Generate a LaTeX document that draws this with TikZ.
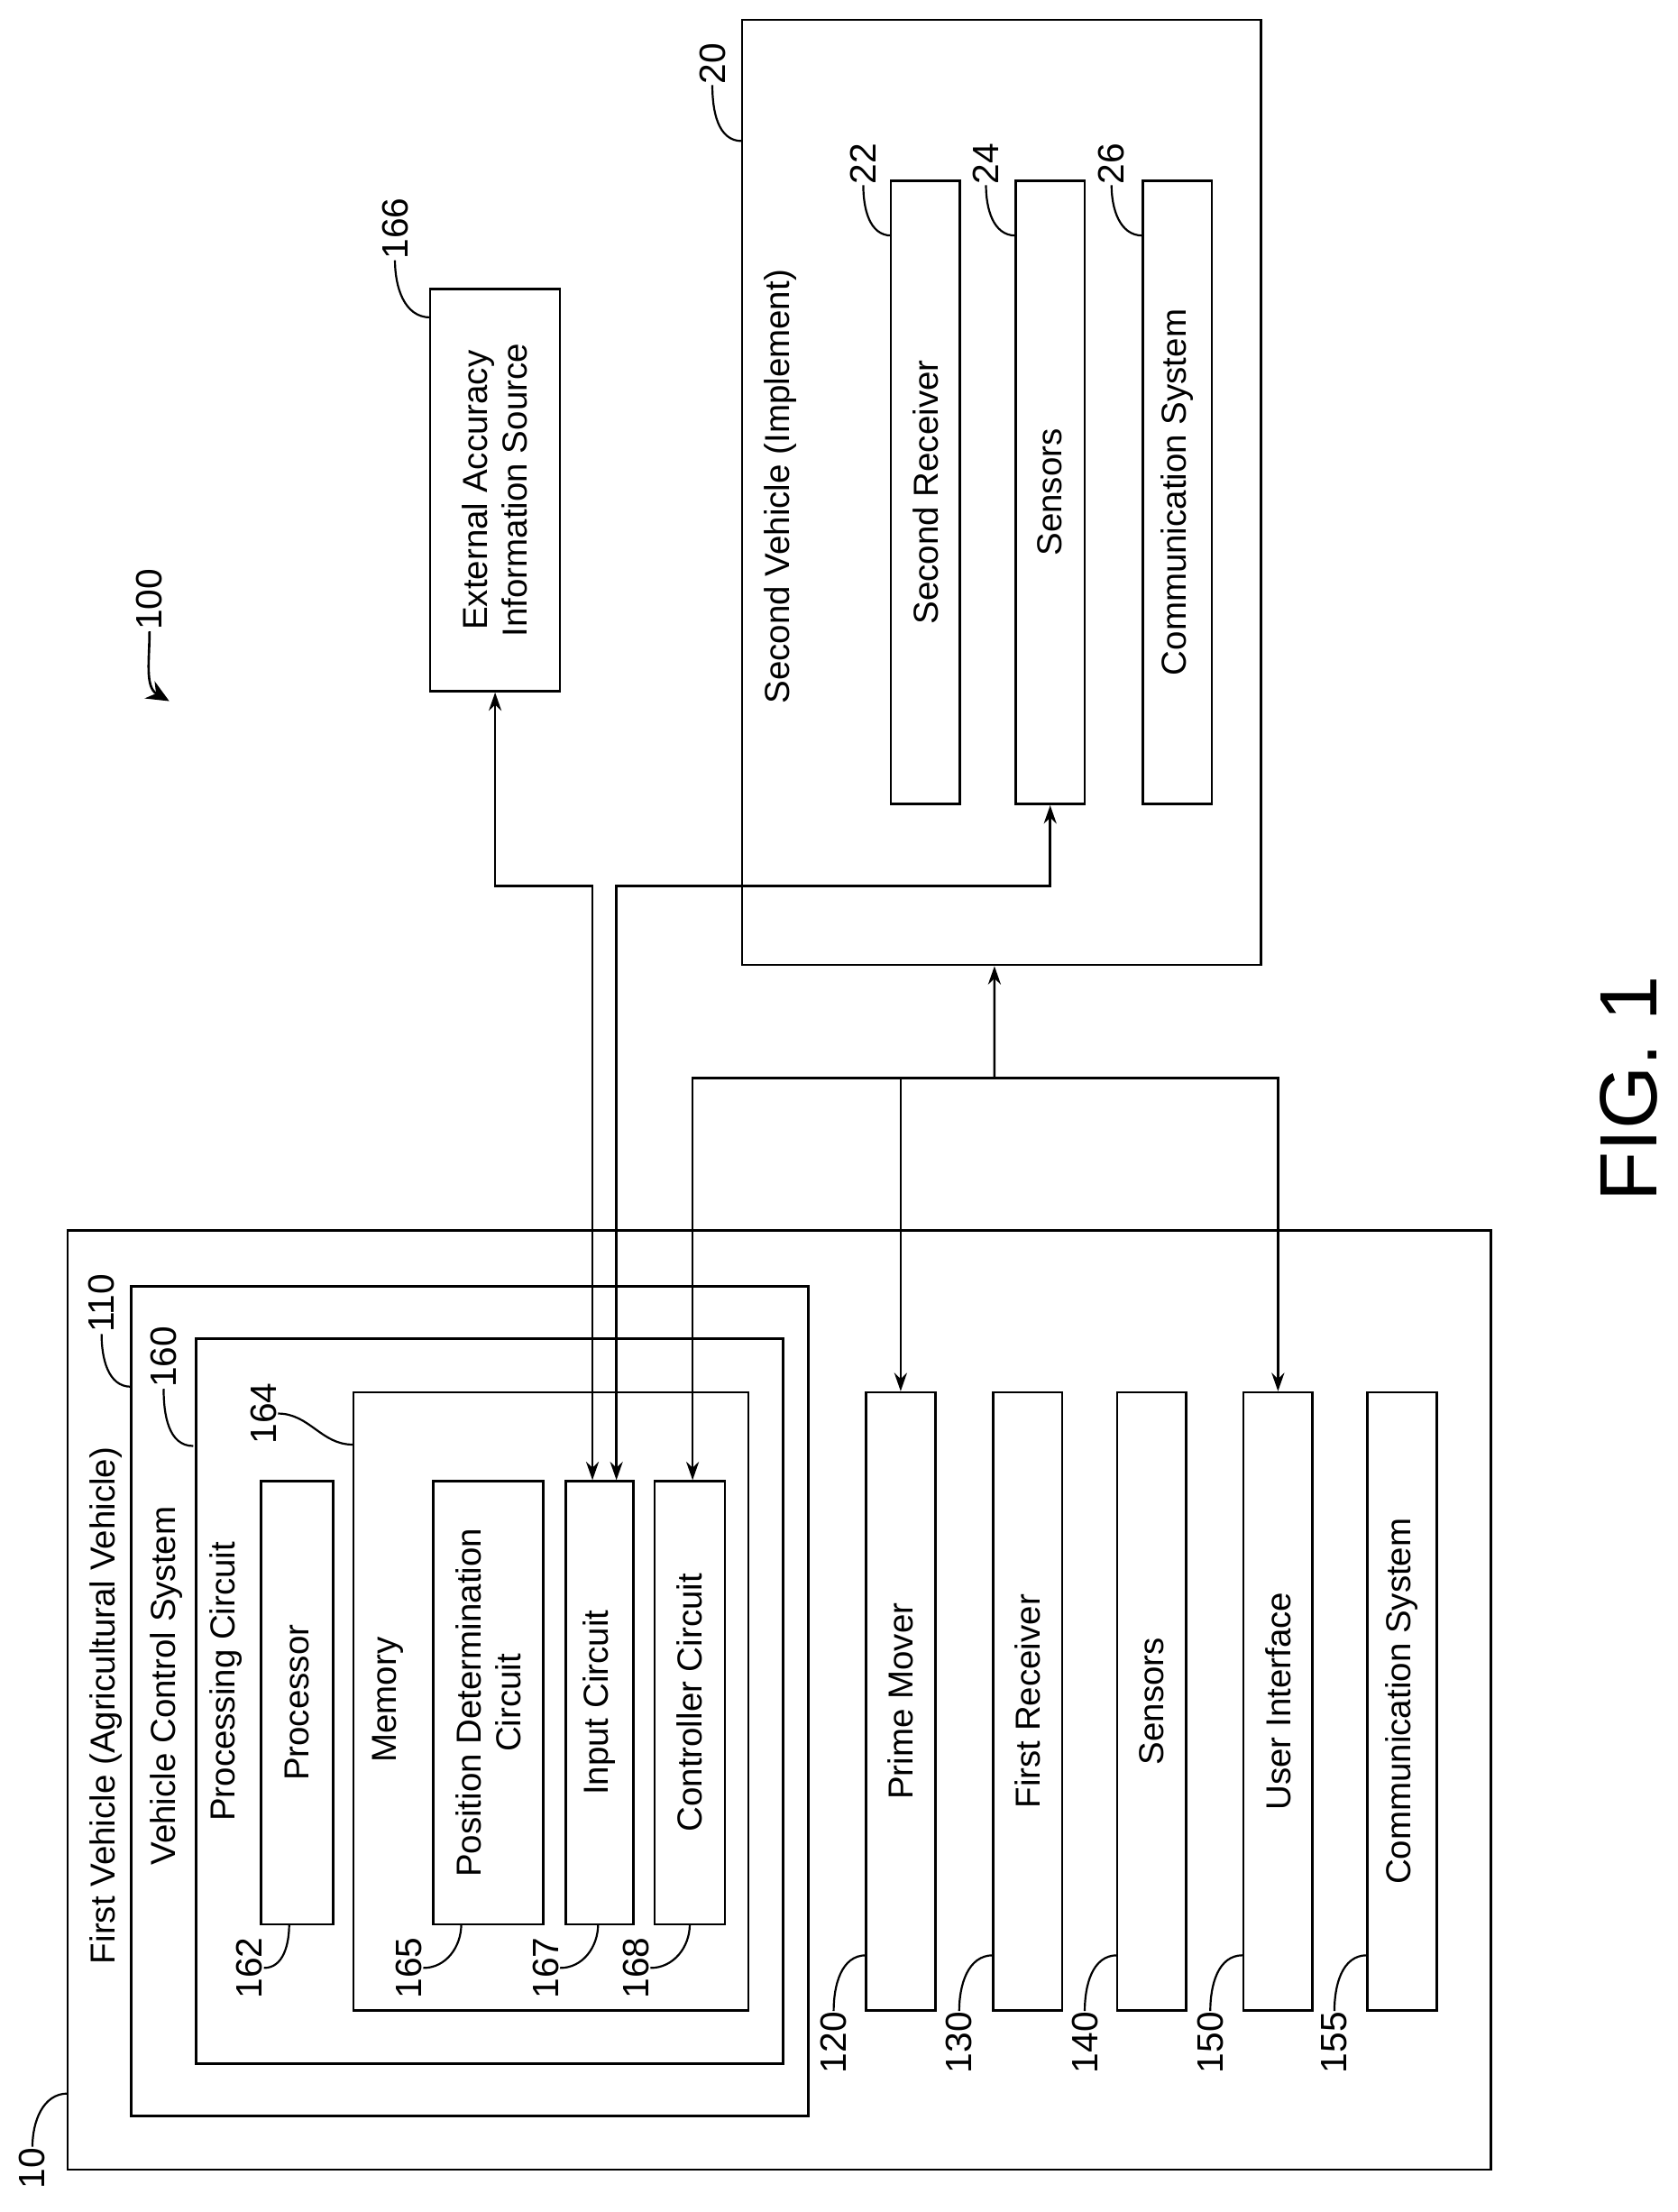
\documentclass[tikz,border=0pt]{standalone}
\usepackage{fontspec}
\setmainfont{Liberation Sans}
\usetikzlibrary{arrows.meta,calc}
\begin{document}
\begin{tikzpicture}[x=0.05cm,y=-0.05cm,
 box/.style={draw,line width=2.4pt,rotate=90,align=center,inner sep=0pt,font=\fontsize{35}{40}\selectfont},
 lbl/.style={rotate=90,font=\fontsize{35}{40}\selectfont,inner sep=1pt},
 num/.style={rotate=90,font=\fontsize{37}{40}\selectfont,inner sep=1pt},
 ld/.style={line width=2pt},
 arr/.style={line width=2.4pt,-{Stealth[length=0.65cm,width=0.45cm]}},
 barr/.style={line width=2.4pt,{Stealth[length=0.65cm,width=0.45cm]}-{Stealth[length=0.65cm,width=0.45cm]}}]
\useasboundingbox (0,0) rectangle (1189,1568);
% first vehicle
\node[box,minimum width=33.3cm,minimum height=50.45cm] (fv) at (552.5,1205) {};
\node[box,minimum width=29.4cm,minimum height=24cm] (vcs) at (333,1206) {};
\node[box,minimum width=25.7cm,minimum height=20.8cm] (pc) at (347,1206) {};
\node[box,minimum width=21.9cm,minimum height=14cm] (mem) at (390.5,1206) {};
\node[box,minimum width=15.7cm,minimum height=2.55cm] (proc) at (210.5,1207) {Processor};
\node[box,minimum width=15.7cm,minimum height=3.9cm] (pos) at (346,1207) {Position Determination\\Circuit};
\node[box,minimum width=15.7cm,minimum height=2.4cm] (in) at (425,1207) {Input Circuit};
\node[box,minimum width=15.7cm,minimum height=2.5cm] (ctrl) at (489,1207) {Controller Circuit};
\node[box,minimum width=21.9cm,minimum height=2.45cm] (pm) at (638.5,1206) {Prime Mover};
\node[box,minimum width=21.9cm,minimum height=2.45cm] (fr) at (728.5,1206) {First Receiver};
\node[box,minimum width=21.9cm,minimum height=2.45cm] (s1) at (816.5,1206) {Sensors};
\node[box,minimum width=21.9cm,minimum height=2.45cm] (ui) at (906,1206) {User Interface};
\node[box,minimum width=21.9cm,minimum height=2.45cm] (cs1) at (994,1206) {Communication System};
\node[lbl] (tfv) at (75,1209) {First Vehicle (Agricultural Vehicle)};
\node[lbl] (tvcs) at (118,1195) {Vehicle Control System};
\node[lbl] (tpc) at (160,1192) {Processing Circuit};
\node[lbl] (tmem) at (275,1205) {Memory};
% external and second vehicle
\node[box,minimum width=14.25cm,minimum height=4.6cm] (ext) at (351,347.5) {External Accuracy\\Information Source};
\node[box,minimum width=33.5cm,minimum height=18.4cm] (sv) at (710,349) {};
\node[lbl] (tsv) at (553,345) {Second Vehicle (Implement)};
\node[box,minimum width=22.1cm,minimum height=2.45cm] (r2) at (656,349) {Second Receiver};
\node[box,minimum width=22.1cm,minimum height=2.45cm] (s2) at (744.5,349) {Sensors};
\node[box,minimum width=22.1cm,minimum height=2.45cm] (cs2) at (834.5,349) {Communication System};
% connectors
\draw[barr] (ext.west) -- ++(0,137) -| ([xshift=-0.25cm]in.east);
\draw[barr] (s2.west) -- ++(0,57) -| ([xshift=0.6cm]in.east);
\coordinate (j) at (705,764);
\draw[arr] (j) -- ([xshift=-0.25cm]sv.west);
\draw[arr] (j) -| ([xshift=0.1cm]ctrl.east);
\draw[arr] (j) -| (pm.east);
\draw[arr] (j) -| (ui.east);
% reference numbers
\node[num] (n10) at (23,1537) {10};
\draw[ld] (n10.east) to[out=90,in=180] (48,1484);
\node[num] (n110) at (72,924) {110};
\draw[ld] (n110.west) to[out=-90,in=180] (93,983);
\node[num] (n160) at (116,962) {160};
\draw[ld] (n160.west) to[out=-90,in=180] (137,1025);
\node[num] (n164) at (187,1002) {164};
\draw[ld] (n164.south) to[out=0,in=180] (250,1024);
\node[num] (n162) at (177,1395) {162};
\draw[ld] (n162.south) to[out=0,in=-90] (205,1364);
\node[num] (n165) at (290,1395) {165};
\draw[ld] (n165.south) to[out=0,in=-90] (327,1364);
\node[num] (n167) at (387,1395) {167};
\draw[ld] (n167.south) to[out=0,in=-90] (424,1364);
\node[num] (n168) at (451,1395) {168};
\draw[ld] (n168.south) to[out=0,in=-90] (489,1364);
\node[num] (n120) at (591,1448) {120};
\draw[ld] (n120.east) to[out=90,in=180] (614,1386);
\node[num] (n130) at (680,1448) {130};
\draw[ld] (n130.east) to[out=90,in=180] (704,1386);
\node[num] (n140) at (769,1448) {140};
\draw[ld] (n140.east) to[out=90,in=180] (792,1386);
\node[num] (n150) at (858,1448) {150};
\draw[ld] (n150.east) to[out=90,in=180] (881,1386);
\node[num] (n155) at (946,1448) {155};
\draw[ld] (n155.east) to[out=90,in=180] (969,1386);
\node[num] (n166) at (280,162) {166};
\draw[ld] (n166.west) to[out=-90,in=180] (305,225);
\node[num] (n20) at (505,45) {20};
\draw[ld] (n20.west) to[out=-90,in=180] (526,100);
\node[num] (n22) at (612,116) {22};
\draw[ld] (n22.west) to[out=-90,in=180] (632,167);
\node[num] (n24) at (699,116) {24};
\draw[ld] (n24.west) to[out=-90,in=180] (720,167);
\node[num] (n26) at (788,116) {26};
\draw[ld] (n26.west) to[out=-90,in=180] (810,167);
\node[num] (n100) at (106,425) {100};
\draw[line width=2.4pt,-{Stealth[length=0.8cm,width=0.7cm]}] (n100.west) to[out=-90,in=150] (120,497);
\node[rotate=90,font=\fontsize{82}{90}\selectfont,inner sep=0pt] (fig) at (1155,772) {FIG. 1};
\end{tikzpicture}
\end{document}
